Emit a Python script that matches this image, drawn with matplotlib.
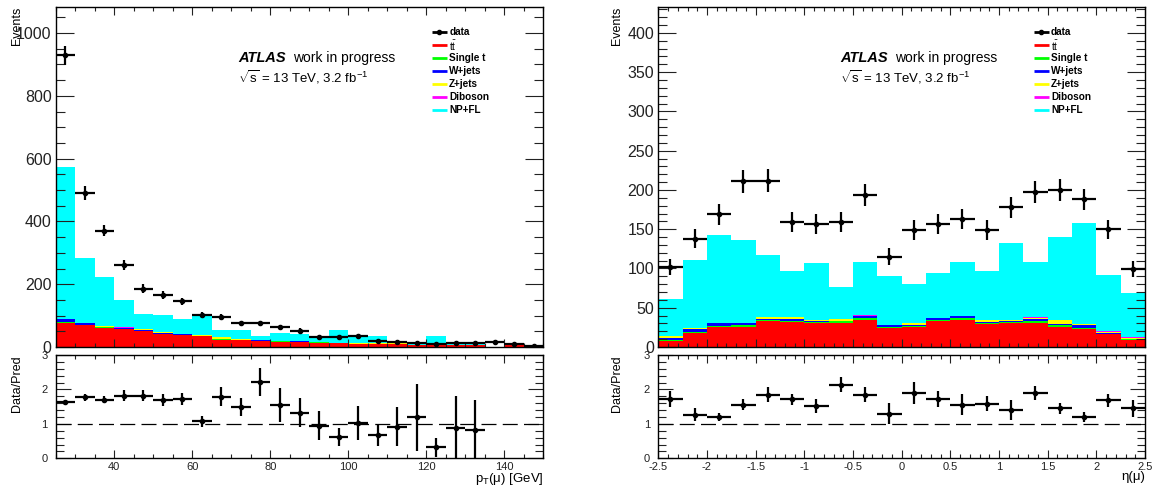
import numpy as np
import matplotlib.pyplot as plt
from matplotlib.ticker import MultipleLocator, FuncFormatter

plt.rcParams['font.family'] = ['Liberation Sans', 'DejaVu Sans']
plt.rcParams['mathtext.fontset'] = 'custom'
plt.rcParams['mathtext.rm'] = 'Liberation Sans'
plt.rcParams['mathtext.it'] = 'Liberation Sans:italic'
plt.rcParams['mathtext.bf'] = 'Liberation Sans:bold'
plt.rcParams['axes.unicode_minus'] = False

nan = np.nan

# --- left: muon pT, 5 GeV bins from 25 to 150 ---
pt_edges = np.arange(25, 151, 5)
pt_ttbar = [76, 69, 62, 56, 50, 42, 37, 34, 23, 21, 19, 17, 16, 14, 12, 10, 10, 10, 5, 5, 6, 5, 1.5, 8, 5]
pt_single_t = [4, 2, 2, 2, 2, 1, 1, 1, 2, 1, 1, 1, 1, 0.5, 0.5, 0.5, 0.5, 0.5, 0.3, 0.3, 0.3, 0.3, 0, 0, 0]
pt_wjets = [9, 4, 1, 2, 1, 3, 3.5, 1.5, 1, 1, 1, 1, 1, 1.5, 0.5, 0.5, 0.5, 0.5, 0.3, 0.3, 0.3, 0.3, 0, 0, 0]
pt_zjets = [1, 1, 3, 2, 3, 0.5, 0.5, 0.5, 5, 1.5, 2, 1, 0.5, 0.5, 0.5, 1, 0.5, 0.5, 0.3, 0.3, 0.3, 0.3, 0, 0, 0]
pt_diboson = [0.5, 0.3, 0.3, 0.3, 0.2, 0.2, 0.2, 0.2, 0.2, 0.2, 0.1, 0.1, 0.1, 0.1, 0.1, 0.1, 0.1, 0.1, 0.1, 0.1, 0.1, 0.1, 0, 0, 0]
pt_npfl = [484, 208, 155, 87, 50, 54, 48, 61, 22, 28, 12, 24, 24, 18, 40, 23, 23, 8, 8, 29, 10, 10, 0, 0, 0]
pt_data = [929, 491, 371, 262, 186, 165, 145, 103, 96, 75, 75, 63, 52, 33, 31, 35, 20, 16, 12, 8.5, 14, 12, 17, 10, 3]
pt_data_err = [30, 22, 19, 16, 14, 13, 12, 10, 10, 9, 9, 8, 7, 6, 6, 6, 4.5, 4, 3.5, 3, 3.7, 3.5, 4, 3, 1.7]
pt_ratio = [1.63, 1.77, 1.70, 1.82, 1.82, 1.70, 1.73, 1.08, 1.79, 1.50, 2.22, 1.55, 1.33, 0.94, 0.63,
            1.03, 0.68, 0.92, 1.19, 0.32, 0.87, 0.83, nan, nan, nan]
pt_ratio_err = [0.07, 0.1, 0.1, 0.15, 0.15, 0.18, 0.18, 0.16, 0.27, 0.26, 0.4, 0.5, 0.43, 0.42, 0.26,
                0.5, 0.32, 0.56, 0.97, 0.28, 0.93, 0.87, nan, nan, nan]

# --- right: muon eta, 0.25 bins from -2.5 to 2.5 ---
eta_edges = np.linspace(-2.5, 2.5, 21)
eta_ttbar = [8, 18, 25, 26, 33, 32, 30, 31, 35, 24, 26, 33, 35, 29, 31, 31, 26, 23, 16, 9]
eta_single_t = [1, 1.5, 1.5, 1.5, 2, 1.5, 1.5, 1.5, 1.5, 1, 1, 1, 1.5, 1.5, 1, 1.5, 1.5, 1.5, 1, 1]
eta_wjets = [2, 3.5, 3.5, 2.5, 1, 2.5, 1.5, 1, 3, 2.5, 1, 2.5, 2.5, 1, 1.5, 3, 2, 3.5, 1, 0.5]
eta_zjets = [2.5, 1, 0.5, 0.5, 2, 2, 1.5, 2, 0.5, 0.5, 2, 0.5, 0.5, 3, 0.5, 2, 5, 1, 1.5, 1.5]
eta_diboson = [0.3] * 20
eta_npfl = [47, 87, 112, 106, 79, 58, 72, 40, 68, 62, 50, 57, 68, 62, 98, 70, 105, 128, 72, 56]
eta_data = [102, 138, 169, 211, 212, 159, 157, 159, 194, 115, 149, 157, 163, 149, 178, 198, 200, 188, 150, 99]
eta_data_err = [10, 12, 13, 14.5, 14.5, 12.6, 12.5, 12.6, 14, 10.7, 12.2, 12.5, 12.8, 12.2, 13.3, 14, 14, 13.7, 12.2, 10]
eta_ratio = [1.72, 1.27, 1.20, 1.56, 1.85, 1.71, 1.51, 2.14, 1.85, 1.30, 1.90, 1.72, 1.56, 1.59, 1.39,
             1.90, 1.46, 1.20, 1.69, 1.45]
eta_ratio_err = [0.23, 0.18, 0.12, 0.17, 0.22, 0.17, 0.2, 0.21, 0.22, 0.3, 0.32, 0.24, 0.3, 0.23, 0.29,
                 0.2, 0.16, 0.15, 0.19, 0.24]

labels = ['data', r'$\mathrm{t\bar{t}}$', 'Single t', 'W+jets', 'Z+jets', 'Diboson', 'NP+FL']
colors = ['black', '#ff0000', '#00ff00', '#0000ff', '#ffff00', '#ff00ff', '#00ffff']

W, H = 1156, 487
fig = plt.figure(figsize=(W / 100, H / 100), dpi=100)


def px_axes(x0, y0, x1, y1):
    return fig.add_axes([x0 / W, 1 - y1 / H, (x1 - x0) / W, (y1 - y0) / H])


def style(ax, ylen, xlen):
    for s in ax.spines.values():
        s.set_linewidth(1.0)
    ax.tick_params(which='both', direction='in', top=True, right=True, width=0.8, colors='#222222')
    ax.tick_params(axis='y', which='major', length=ylen[0])
    ax.tick_params(axis='y', which='minor', length=ylen[1])
    ax.tick_params(axis='x', which='major', length=xlen[0])
    ax.tick_params(axis='x', which='minor', length=xlen[1])


def draw(edges, comps, data, data_err, ratio, ratio_err, box, ymax, ymaj, ymin,
         xmaj, xmin, xlabel, ylab_x):
    x0, x1 = box
    ax = px_axes(x0, 7, x1, 347)
    rax = px_axes(x0, 355, x1, 458.3)
    centers = 0.5 * (edges[1:] + edges[:-1])
    half = 0.5 * np.diff(edges)

    bottom = np.zeros(len(centers))
    for vals, c in zip(comps, colors[1:]):
        top = bottom + np.array(vals, dtype=float)
        ax.stairs(top, edges, baseline=bottom, fill=True, color=c, lw=0)
        bottom = top

    ax.errorbar(centers, data, xerr=half, yerr=data_err, fmt='o', ms=3, color='black',
                lw=1.6, capsize=0)
    ax.set_xlim(edges[0], edges[-1])
    ax.set_ylim(0, ymax)
    ax.yaxis.set_major_locator(MultipleLocator(ymaj))
    ax.yaxis.set_minor_locator(MultipleLocator(ymin))
    ax.xaxis.set_major_locator(MultipleLocator(xmaj))
    ax.xaxis.set_minor_locator(MultipleLocator(xmin))
    style(ax, (12.7, 6.8), (5.5, 3))
    ax.tick_params(labelbottom=False, labelsize=11.5, pad=3)
    ax.set_ylabel('Events', loc='top', fontsize=9)
    ax.yaxis.set_label_coords(ylab_x, 1.0)

    # text block
    ax.text(0.374, 0.85, 'ATLAS', transform=ax.transAxes, fontsize=10.5, fontweight='bold',
            style='italic', va='center')
    ax.text(0.487, 0.85, 'work in progress', transform=ax.transAxes, fontsize=10, va='center')
    ax.text(0.374, 0.795, r'$\sqrt{\mathrm{s}}$ = 13 TeV, 3.2 fb$^{\mathrm{-1}}$',
            transform=ax.transAxes, fontsize=9.5, va='center')

    # legend
    for i, (lab, c) in enumerate(zip(labels, colors)):
        y = 0.926 - i * 0.0382
        ax.plot([0.771, 0.802], [y, y], transform=ax.transAxes, color=c, lw=2,
                solid_capstyle='butt')
        if i == 0:
            ax.plot([0.7865], [y], 'o', ms=3, color='black', transform=ax.transAxes)
        ax.text(0.807, y, lab, transform=ax.transAxes, fontsize=7.2, fontweight='bold',
                va='center')

    # ratio panel
    rax.errorbar(centers, ratio, xerr=half, yerr=ratio_err, fmt='o', ms=3, color='black',
                 lw=1.6, capsize=0)
    rax.axhline(1, color='black', lw=0.9, dashes=(12, 5))
    rax.set_xlim(edges[0], edges[-1])
    rax.set_ylim(0, 3)
    rax.yaxis.set_major_locator(MultipleLocator(1))
    rax.yaxis.set_minor_locator(MultipleLocator(0.2))
    rax.xaxis.set_major_locator(MultipleLocator(xmaj))
    rax.xaxis.set_minor_locator(MultipleLocator(xmin))
    rax.xaxis.set_major_formatter(FuncFormatter(lambda v, p: '%g' % v))
    style(rax, (11, 5.5), (5.5, 3))
    rax.tick_params(axis='y', labelsize=8, pad=6)
    rax.tick_params(axis='x', labelsize=8, pad=3)
    rax.set_ylabel('Data/Pred', loc='top', fontsize=9)
    rax.yaxis.set_label_coords(ylab_x, 1.0)
    rax.set_xlabel(xlabel, loc='right', fontsize=9.5, labelpad=-1)
    return ax, rax


draw(pt_edges, [pt_ttbar, pt_single_t, pt_wjets, pt_zjets, pt_diboson, pt_npfl],
     pt_data, pt_data_err, pt_ratio, pt_ratio_err, (55.7, 543.3), 1083, 200, 50, 20, 5,
     'p$_{\\mathrm{T}}$(μ) [GeV]', -0.068)

draw(eta_edges, [eta_ttbar, eta_single_t, eta_wjets, eta_zjets, eta_diboson, eta_npfl],
     eta_data, eta_data_err, eta_ratio, eta_ratio_err, (658.3, 1145), 433, 50, 10, 0.5, 0.1,
     'η(μ)', -0.072)

fig.savefig('out.png', dpi=100)
